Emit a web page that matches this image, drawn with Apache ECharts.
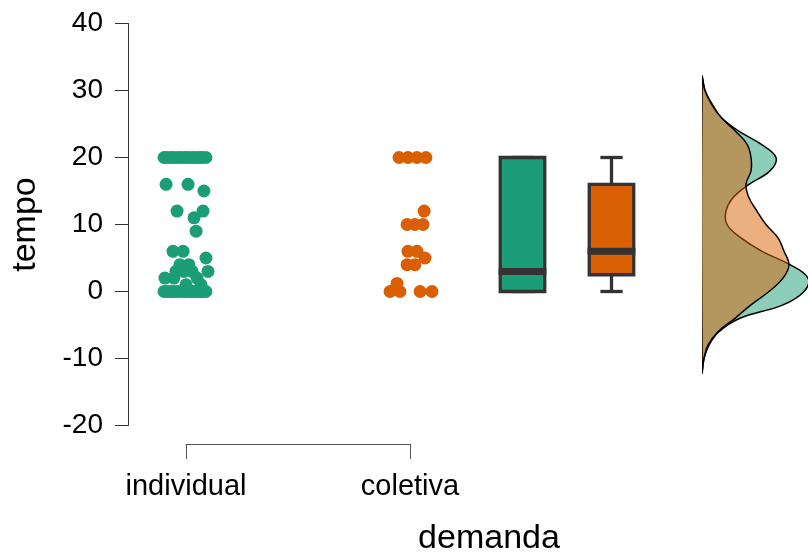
<!DOCTYPE html>
<html>
<head>
<meta charset="utf-8">
<script src="https://cdn.jsdelivr.net/npm/echarts@6/dist/echarts.min.js"></script>
<style>
  html, body { margin: 0; padding: 0; background: #ffffff; }
  #chart { width: 808px; height: 554px; }
</style>
</head>
<body>
<div id="chart"></div>
<script>
// Groups and palette
const categories = ['individual', 'coletiva'];
const groupColors = ['#1B9E77', '#D95F02'];
const groupFills = ['rgba(27,158,119,0.5)', 'rgba(217,95,2,0.5)'];

// Raw observations (tempo) with horizontal jitter (fraction of category step)
const individualTempo = [
  20, 20, 20, 20, 20, 20, 20, 20, 20, 20, 20, 20, 20,
  16, 16, 15, 12, 12, 11, 9, 6, 6, 5, 4, 4, 3, 3, 3, 3, 2, 2, 2, 1, 1,
  0, 0, 0, 0, 0, 0, 0, 0, 0, 0, 0, 0, 0, 0
];
const individualJitter = [
  -0.098, -0.085, -0.067, -0.054, -0.036, -0.022, -0.004, 0.009, 0.027, 0.040, 0.058, 0.071, 0.089,
  -0.089, 0.009, 0.080, -0.040, 0.076, 0.036, 0.045, -0.058, -0.013, 0.089, -0.027, 0.013,
  0.098, -0.045, 0.027, -0.009, -0.094, 0.049, -0.054, 0.000, 0.067,
  -0.098, -0.085, -0.067, -0.054, -0.040, -0.022, -0.009, 0.004, 0.022, 0.036, 0.049, 0.063, 0.076, 0.089
];
const coletivaTempo = [20, 20, 20, 20, 12, 10, 10, 10, 6, 6, 5, 4, 4, 1.2, 0, 0, 0, 0];
const coletivaJitter = [
  -0.049, -0.009, 0.031, 0.071, 0.063, -0.013, 0.022, 0.058, -0.009, 0.031,
  0.067, -0.013, 0.022, -0.058, -0.089, -0.045, 0.045, 0.098
];

// Box summaries per group
const boxMin = [0, 0];
const boxQ1 = [0, 2.5];
const boxMedian = [3, 6];
const boxQ3 = [20, 16];
const boxMax = [20, 20];

// Kernel density estimates of tempo per group
const densityTempo = [-12, -10, -8, -6, -4, -2, 0, 2, 4, 6, 8, 10, 12, 14, 16, 18, 20, 22, 24, 26, 28, 30, 32];
const individualDensity = [
  0, 0.001, 0.0035, 0.0085, 0.019, 0.0405, 0.051, 0.053, 0.044, 0.030, 0.0195, 0.0125,
  0.012, 0.0155, 0.0235, 0.034, 0.037, 0.0295, 0.018, 0.0095, 0.0045, 0.0015, 0
];
const coletivaDensity = [
  0, 0.001, 0.003, 0.008, 0.0165, 0.0245, 0.0335, 0.0405, 0.0435, 0.041, 0.038, 0.032,
  0.0275, 0.0235, 0.022, 0.0245, 0.0245, 0.0225, 0.0165, 0.0095, 0.005, 0.0015, 0
];

const FONT = '"Liberation Sans", Arial, Helvetica, sans-serif';
const BOX_STROKE = '#333333';

function renderBox(params, api) {
  const i = api.value(0);
  const cx = api.coord([i, 0])[0];
  const half = api.size([1, 0])[0] * 0.25;
  const yAt = k => api.coord([i, api.value(k)])[1];
  const yMin = yAt(1), yQ1 = yAt(2), yMed = yAt(3), yQ3 = yAt(4), yMax = yAt(5);
  const lw = 3.3;
  const capHalf = half / 2;
  const line = (x1, y1, x2, y2, w) => ({
    type: 'line',
    shape: { x1, y1, x2, y2 },
    style: { stroke: BOX_STROKE, lineWidth: w }
  });
  return {
    type: 'group',
    children: [
      line(cx, yQ3, cx, yMax, lw),
      line(cx, yQ1, cx, yMin, lw),
      line(cx - capHalf, yMax, cx + capHalf, yMax, lw),
      line(cx - capHalf, yMin, cx + capHalf, yMin, lw),
      {
        type: 'rect',
        shape: { x: cx - half, y: yQ3, width: half * 2, height: yQ1 - yQ3 },
        style: { fill: groupColors[i], stroke: BOX_STROKE, lineWidth: lw }
      },
      line(cx - half - lw / 2, yMed, cx + half + lw / 2, yMed, 7)
    ]
  };
}

function densityRenderer(dens, fill) {
  return function (params, api) {
    const pts = densityTempo.map((t, k) => api.coord([dens[k], t]));
    return {
      type: 'polygon',
      shape: { points: pts, smooth: 0.4 },
      style: { fill: fill, stroke: '#000000', lineWidth: 1.5 }
    };
  };
}

const chart = echarts.init(document.getElementById('chart'), null, { renderer: 'canvas' });

const hiddenY = idx => ({
  gridIndex: idx, type: 'value', min: -20, max: 40, interval: 10, show: false
});

chart.setOption({
  animation: false,
  backgroundColor: '#ffffff',
  grid: [
    { left: 186, width: 224, top: 23.5, height: 402 },
    { left: 478, width: 178, top: 23.5, height: 402 },
    { left: 702, width: 106, top: 23.5, height: 402 }
  ],
  xAxis: [
    {
      gridIndex: 0, type: 'value', min: 0, max: 1, interval: 1,
      position: 'bottom', offset: 18.5,
      splitLine: { show: false },
      axisLine: { show: true, onZero: false, lineStyle: { color: '#555555', width: 1 } },
      axisTick: { show: true, length: 15, lineStyle: { color: '#555555', width: 1 } },
      axisLabel: {
        formatter: v => categories[Math.round(v)],
        margin: 28, fontSize: 29, color: '#000000', fontFamily: FONT
      }
    },
    { gridIndex: 1, type: 'category', data: categories, show: false },
    { gridIndex: 2, type: 'value', min: 0, max: 0.053, show: false }
  ],
  yAxis: [
    {
      gridIndex: 0, type: 'value', min: -20, max: 40, interval: 10,
      position: 'left', offset: 58,
      name: 'tempo', nameLocation: 'middle', nameGap: 85,
      nameTextStyle: { fontSize: 34, color: '#000000', fontFamily: FONT },
      splitLine: { show: false },
      axisLine: { show: true, onZero: false, lineStyle: { color: '#333333', width: 1 } },
      axisTick: { show: true, length: 13, lineStyle: { color: '#333333', width: 1 } },
      axisLabel: { margin: 25, fontSize: 28, color: '#000000', fontFamily: FONT }
    },
    hiddenY(1),
    hiddenY(2)
  ],
  graphic: [
    {
      type: 'text',
      x: 489, y: 539,
      style: {
        text: 'demanda', fontSize: 34, fontFamily: FONT, fill: '#000000',
        textAlign: 'center', textVerticalAlign: 'middle'
      }
    }
  ],
  series: [
    {
      name: categories[0], type: 'scatter', xAxisIndex: 0, yAxisIndex: 0,
      clip: false, symbolSize: 13,
      itemStyle: { color: groupColors[0], opacity: 1 },
      data: individualTempo.map((t, k) => [0 + individualJitter[k], t])
    },
    {
      name: categories[1], type: 'scatter', xAxisIndex: 0, yAxisIndex: 0,
      clip: false, symbolSize: 13,
      itemStyle: { color: groupColors[1], opacity: 1 },
      data: coletivaTempo.map((t, k) => [1 + coletivaJitter[k], t])
    },
    {
      name: 'box', type: 'custom', xAxisIndex: 1, yAxisIndex: 1,
      renderItem: renderBox,
      encode: { x: 0, y: [1, 2, 3, 4, 5] },
      data: categories.map((c, i) => [i, boxMin[i], boxQ1[i], boxMedian[i], boxQ3[i], boxMax[i]])
    },
    {
      name: 'density-individual', type: 'custom', xAxisIndex: 2, yAxisIndex: 2,
      clip: true, renderItem: densityRenderer(individualDensity, groupFills[0]),
      data: [[0, 0]]
    },
    {
      name: 'density-coletiva', type: 'custom', xAxisIndex: 2, yAxisIndex: 2,
      clip: true, renderItem: densityRenderer(coletivaDensity, groupFills[1]),
      data: [[0, 0]]
    }
  ]
});
</script>
</body>
</html>
